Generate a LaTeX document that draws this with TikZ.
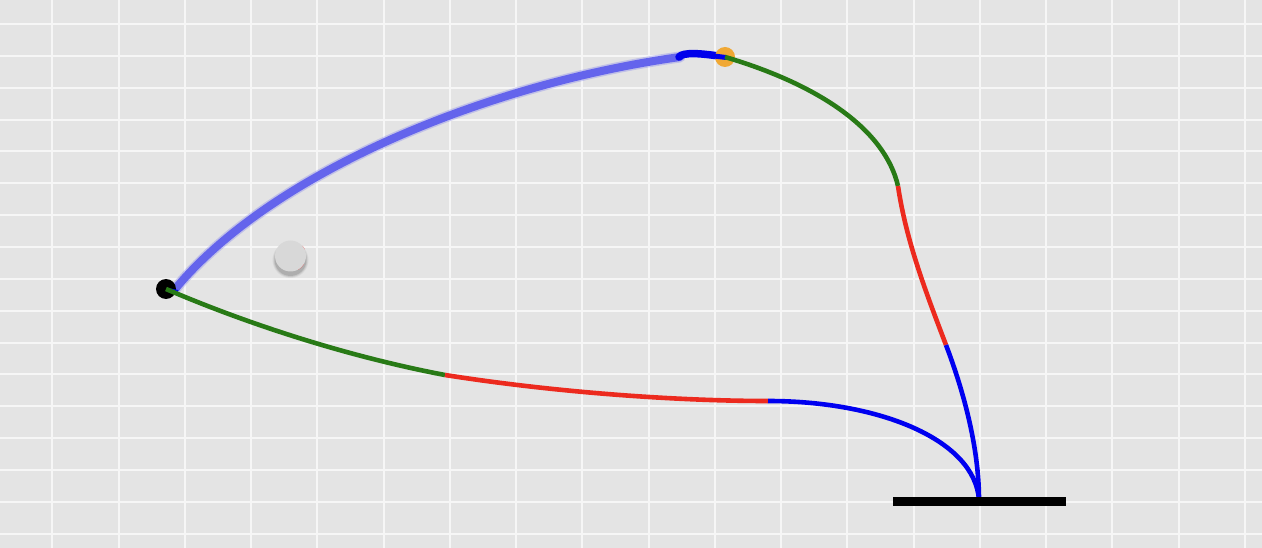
\documentclass[tikz,border=0pt]{standalone}
\definecolor{bgc}{RGB}{228,228,228}
\definecolor{gridc}{RGB}{246,246,246}
\definecolor{cg}{RGB}{40,122,22}
\definecolor{cr}{RGB}{236,42,30}
\definecolor{cb}{RGB}{0,0,240}
\definecolor{cdb}{RGB}{0,0,235}
\definecolor{clb}{RGB}{100,100,236}
\definecolor{clb2}{RGB}{110,110,240}
\definecolor{cor}{RGB}{240,168,52}
\definecolor{cknob}{RGB}{216,216,216}
\definecolor{ctick}{RGB}{240,90,90}
\begin{document}
\begin{tikzpicture}[x=1pt,y=-1pt,
  gridline/.style={draw=gridc,line width=2pt},
  seg/.style={line width=4.6pt},
  cgreen/.style={seg,draw=cg},
  cred/.style={seg,draw=cr},
  cblue/.style={seg,draw=cb},
  dot/.style={circle,inner sep=0pt,minimum size=20pt}]
\fill[bgc] (0,0) rectangle (1262,548);
\useasboundingbox (0,0) rectangle (1262,548);
% grid
\foreach \k in {0,...,18} \draw[gridline] ({52.3+66.25*\k},0) -- ({52.3+66.25*\k},548);
\foreach \k in {0,...,16} \draw[gridline] (0,{24+31.85*\k}) -- (1262,{24+31.85*\k});
% points
\coordinate (A) at (166,289);
\coordinate (L1) at (176,288);
\coordinate (L2) at (680,57);
\coordinate (B) at (725,57);
\coordinate (G1) at (898,186);
\coordinate (R1) at (946,345);
\coordinate (E) at (979,500);
\coordinate (G2) at (445,375);
\coordinate (R2) at (768,401);
\coordinate (barL) at (893,501.5);
\coordinate (barR) at (1066,501.5);
% light blue fuzzy curve
\draw[line width=11pt,draw=clb2,opacity=0.3,line cap=round]
  (L1) .. controls (270,175) and (480,85) .. (L2);
\draw[line width=8pt,draw=clb,line cap=round]
  (L1) .. controls (270,175) and (480,85) .. (L2);
% dark blue short segment
\draw[line width=7.5pt,draw=cdb,line cap=round]
  (679,57) .. controls (683,52) and (700,53) .. (B);
% orange dot
\node[dot,fill=cor] (orange) at (B) {};
\draw[line width=5pt,draw=cdb] (714,56) -- (726,57.5);
% right chain
\draw[cgreen] (B) .. controls (820,85) and (885,130) .. (G1);
\draw[cred] (G1) .. controls (906,240) and (925,290) .. (R1);
\draw[cblue] (R1) .. controls (965,395) and (979,450) .. (E);
% black dot
\node[dot,fill=black] (black) at (A) {};
\draw[line width=4pt,draw=cdb] (168,290) -- (178,292);
% lower chain
\draw[cgreen] (A) .. controls (250,325) and (350,357) .. (G2);
\draw[cred] (G2) .. controls (560,393) and (680,401) .. (R2);
\draw[cblue] (R2) .. controls (880,401) and (975,440) .. (E);
% base bar
\draw[line width=9pt,draw=black] (barL) -- (barR);
% gray circle with shadow
\foreach \r/\o in {18/0.05,17/0.08,16/0.12}
  \fill[black,opacity=\o] (290.5,260) circle (\r);
\draw[ctick,line width=0.8pt,opacity=0.7] (290.5,256) ++(30:15.5) arc (30:60:15.5);
\draw[ctick,line width=0.8pt,opacity=0.7] (290.5,256) ++(-40:15.5) arc (-40:-25:15.5);
\node[circle,inner sep=0pt,minimum size=31pt,fill=cknob] (knob) at (290.5,256) {};
\end{tikzpicture}
\end{document}
